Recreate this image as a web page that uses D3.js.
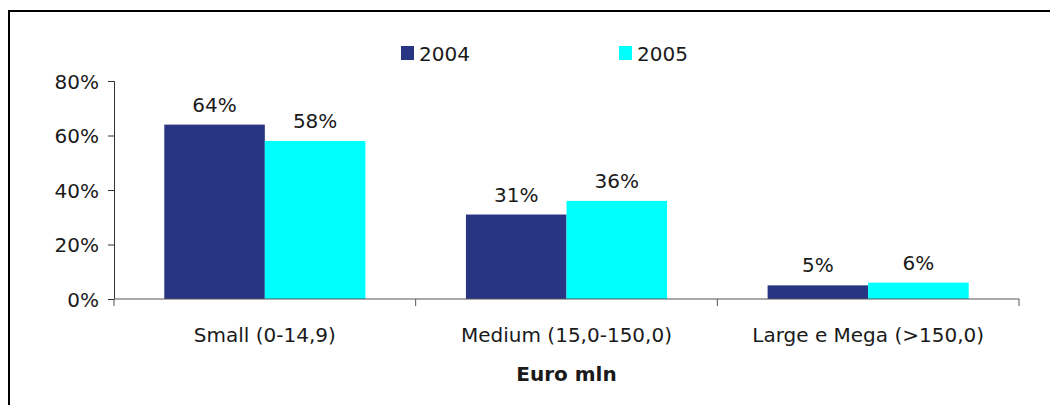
<!DOCTYPE html>
<html>
<head>
<meta charset="utf-8">
<script src="https://cdn.jsdelivr.net/npm/d3@7"></script>
<style>
  html, body { margin: 0; padding: 0; background: #fff; }
  svg { display: block; }
  text { font-family: "DejaVu Sans", sans-serif; fill: #1a1a1a; }
</style>
</head>
<body>
<svg id="chart" width="1050" height="405"></svg>
<script>
// Firm size classes (turnover, Euro mln) and share of firms per year
const categories = ["Small (0-14,9)", "Medium (15,0-150,0)", "Large e Mega (>150,0)"];
const seriesNames = ["2004", "2005"];
const values2004 = [64, 31, 5];
const values2005 = [58, 36, 6];
const yTicks = [0, 20, 40, 60, 80];
const seriesColors = ["#283583", "#00ffff"];

const svg = d3.select("#chart");
const margin = { left: 114, right: 31, top: 81, bottom: 106 };
const W = 1050, H = 405;
const fontSize = "20px";

// outer frame
svg.append("path")
  .attr("d", `M9,${H + 5} V11 H${W + 5}`)
  .attr("fill", "none").attr("stroke", "#000").attr("stroke-width", 2);

const x0 = d3.scaleBand().domain(categories).range([margin.left, W - margin.right]).padding(0);
const x1 = d3.scaleBand().domain(seriesNames).range([0, x0.bandwidth()]).paddingInner(0).paddingOuter(0.5);
const y = d3.scaleLinear().domain([0, 80]).range([H - margin.bottom, margin.top]);

const rows = categories.map((c, i) => ({ cat: c, vals: [values2004[i], values2005[i]] }));

// bars
const groups = svg.append("g").selectAll("g").data(rows).join("g")
  .attr("transform", d => `translate(${x0(d.cat)},0)`);
groups.selectAll("rect").data(d => d.vals.map((v, k) => ({ s: seriesNames[k], v, k })))
  .join("rect")
  .attr("x", d => x1(d.s))
  .attr("width", x1.bandwidth())
  .attr("y", d => y(d.v))
  .attr("height", d => y(0) - y(d.v))
  .attr("fill", d => seriesColors[d.k]);

// value labels
groups.selectAll("text.val").data(d => d.vals.map((v, k) => ({ s: seriesNames[k], v })))
  .join("text").attr("class", "val")
  .attr("x", d => x1(d.s) + x1.bandwidth() / 2)
  .attr("y", d => y(d.v) - 13)
  .attr("text-anchor", "middle")
  .style("font-size", fontSize)
  .text(d => d.v + "%");

// y axis
const yAxis = svg.append("g").attr("transform", `translate(${margin.left},0)`)
  .call(d3.axisLeft(y).tickValues(yTicks).tickFormat(d => d + "%").tickSize(6).tickPadding(9));
yAxis.select(".domain").attr("stroke", "#333");
yAxis.selectAll(".tick line").attr("stroke", "#333");
yAxis.selectAll("text").style("font-size", fontSize).attr("fill", "#1a1a1a")
  .style("font-family", "DejaVu Sans").attr("dy", "0.36em");

// x axis with ticks at category boundaries
const xAxisG = svg.append("g").attr("transform", `translate(0,${y(0)})`);
xAxisG.append("line").attr("x1", margin.left).attr("x2", W - margin.right)
  .attr("stroke", "#555");
const boundaries = categories.map(c => x0(c)).concat([x0(categories[categories.length - 1]) + x0.bandwidth()]);
xAxisG.selectAll("line.tk").data(boundaries).join("line").attr("class", "tk")
  .attr("x1", d => d).attr("x2", d => d).attr("y1", 0).attr("y2", 7).attr("stroke", "#555");
xAxisG.selectAll("text").data(categories).join("text")
  .attr("x", d => x0(d) + x0.bandwidth() / 2)
  .attr("y", 43)
  .attr("text-anchor", "middle")
  .style("font-size", fontSize)
  .text(d => d);

// axis title
svg.append("text")
  .attr("x", x0(categories[1]) + x0.bandwidth() / 2)
  .attr("y", 381)
  .attr("text-anchor", "middle")
  .style("font-size", fontSize).style("font-weight", "bold")
  .text("Euro mln");

// legend
const legend = svg.append("g");
const legendX = [401, 619];
seriesNames.forEach((s, k) => {
  legend.append("rect").attr("x", legendX[k]).attr("y", 46).attr("width", 13).attr("height", 14)
    .attr("fill", seriesColors[k]);
  legend.append("text").attr("x", legendX[k] + 18).attr("y", 61)
    .style("font-size", fontSize).text(s);
});
</script>
</body>
</html>
